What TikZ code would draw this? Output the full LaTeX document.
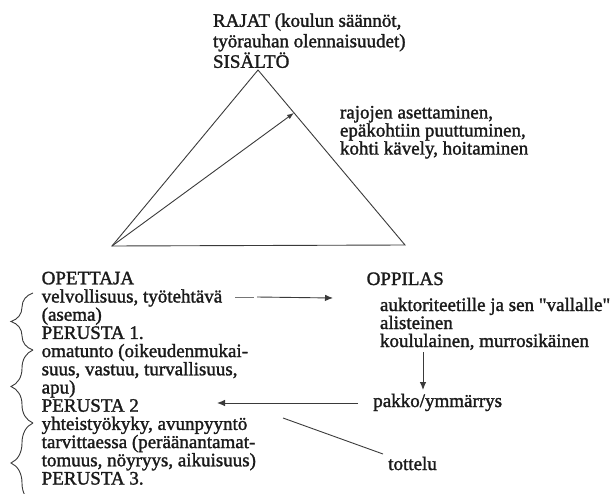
\documentclass[tikz,border=0pt]{standalone}
\usepackage{fontspec}
\setmainfont{Liberation Serif}[Ligatures=TeXOff, FakeBold=1.5]
\usetikzlibrary{arrows.meta,decorations.pathreplacing,calc}
\definecolor{ink}{HTML}{1A1A1A}
\definecolor{wire}{HTML}{3A3A3A}
% invisible strut fixing the height of a node's first line
\newcommand\lnstrut{\rule{0pt}{15.2bp}}
\begin{document}
\begin{tikzpicture}[x=1bp,y=-1bp,
  txt/.style={inner sep=0pt, outer sep=0pt, text=ink, align=left,
    font=\fontsize{19bp}{#1}\selectfont},
  txt/.default=18.2bp,
  block/.style={txt=#1, anchor=north west},
  line/.style={draw=wire, line width=0.9bp},
  arr/.style={line, -{Latex[length=8bp,width=6.5bp]}},
  curly/.style={line, decorate, decoration={brace, amplitude=22bp}}]
\useasboundingbox (0,0) rectangle (612,494);

% triangle
\coordinate (apex) at (258,70);
\coordinate (bl) at (112,246);
\coordinate (br) at (405,245);
\coordinate (side) at ($(apex)!0.245!(br)$);
\draw[line] (bl) -- (apex) -- (br) -- cycle;
\draw[line, -{Latex[length=7bp,width=5bp]}] (bl) -- (side);

% labels around the triangle
\node[block=20.5bp] (rajat) at (213,11.6)
  {\lnstrut RAJAT (koulun säännöt,\\työrauhan olennaisuudet)\\SISÄLTÖ};
\node[block=18bp] (keinot) at (340,103.3)
  {\lnstrut rajojen asettaminen,\\epäkohtiin puuttuminen,\\kohti kävely, hoitaminen};

% teacher column
\node[block=18.2bp] (opettaja) at (41.7,269.1)
  {\lnstrut OPETTAJA\\velvollisuus, työtehtävä\\(asema)\\PERUSTA 1.\\omatunto (oikeudenmukai-\\suus, vastuu, turvallisuus,\\apu)\\PERUSTA 2\\yhteistyökyky, avunpyyntö\\tarvittaessa (peräänantamat-\\tomuus, nöyryys, aikuisuus)\\PERUSTA 3.};

% pupil side
\node[txt, anchor=base west] (oppilas) at (366.7,285) {OPPILAS};
\node[block=18bp] (alisteinen) at (380,295.8)
  {\lnstrut auktoriteetille ja sen "vallalle"\\alisteinen\\koululainen, murrosikäinen};
\node[txt, anchor=base west] (pakko) at (373.3,407) {pakko/ymmärrys};
\node[txt, anchor=base west] (tottelu) at (388.3,470) {tottelu};

% braces grouping the teacher's grounds
\draw[curly] (33,350) -- (33,293);
\draw[curly] (33,423) -- (33,350);
\draw[curly] (33,503) -- (33,423);

% connectors
\coordinate (velv) at (235,297);
\coordinate (velv2) at (254,297);
\coordinate (velv3) at (257,297);
\coordinate (oppl) at (333,298);
\draw[line, draw=wire!70] (velv) -- (velv2);
\draw[arr] (velv3) -- (oppl);
\coordinate (pakl) at (358,403);
\coordinate (per2) at (217,403);
\draw[arr] (pakl) -- (per2);
\coordinate (per3) at (283,418);
\coordinate (tott) at (383,454);
\draw[line] (per3) -- (tott);
\coordinate (kouls) at (423,352);
\coordinate (pakt) at (423,390);
\draw[arr] (kouls) -- (pakt);
\end{tikzpicture}
\end{document}
